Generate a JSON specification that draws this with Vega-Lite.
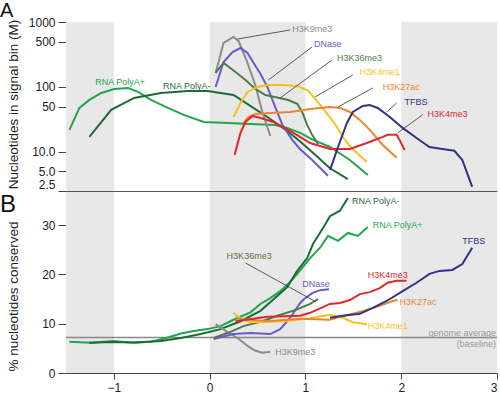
{
  "$schema": "https://vega.github.io/schema/vega-lite/v6.json",
  "padding": {"left": 0, "top": 1, "right": 0, "bottom": 0},
  "spacing": 0,
  "config": {
    "font": "Liberation Sans",
    "view": {"stroke": null},
    "axis": {"labelFont": "Liberation Sans", "titleFont": "Liberation Sans", "labelColor": "#222", "titleColor": "#222", "domainColor": "#444", "tickColor": "#444", "grid": false, "labelFontSize": 12, "titleFontSize": 13.5, "titleFontWeight": "normal", "labelOverlap": false}
  },
  "datasets": {
    "bands": [{"x0": -1.5, "x1": -1}, {"x0": 0, "x1": 1}, {"x0": 2, "x1": 3}],
    "top_lines": [
      {"s": "RNA PolyA+", "x": -1.464, "y": 21.8}, {"s": "RNA PolyA+", "x": -1.36, "y": 47.5}, {"s": "RNA PolyA+", "x": -1.256, "y": 63.1}, {"s": "RNA PolyA+", "x": -1.132, "y": 80.9}, {"s": "RNA PolyA+", "x": -0.997, "y": 93.1}, {"s": "RNA PolyA+", "x": -0.851, "y": 96.5}, {"s": "RNA PolyA+", "x": -0.748, "y": 83.8}, {"s": "RNA PolyA+", "x": -0.613, "y": 63.1}, {"s": "RNA PolyA+", "x": -0.436, "y": 47.5}, {"s": "RNA PolyA+", "x": -0.27, "y": 37.1}, {"s": "RNA PolyA+", "x": -0.062, "y": 28.9}, {"s": "RNA PolyA+", "x": 0.187, "y": 27.9}, {"s": "RNA PolyA+", "x": 0.426, "y": 27.0}, {"s": "RNA PolyA+", "x": 0.685, "y": 26.0}, {"s": "RNA PolyA+", "x": 0.81, "y": 23.4}, {"s": "RNA PolyA+", "x": 0.945, "y": 19.6}, {"s": "RNA PolyA+", "x": 1.08, "y": 15.3}, {"s": "RNA PolyA+", "x": 1.256, "y": 11.9}, {"s": "RNA PolyA+", "x": 1.464, "y": 7.5}, {"s": "RNA PolyA+", "x": 1.651, "y": 4.4},
      {"s": "RNA PolyA-", "x": -1.256, "y": 17.0}, {"s": "RNA PolyA-", "x": -1.028, "y": 44.3}, {"s": "RNA PolyA-", "x": -0.789, "y": 67.7}, {"s": "RNA PolyA-", "x": -0.509, "y": 80.9}, {"s": "RNA PolyA-", "x": -0.228, "y": 86.7}, {"s": "RNA PolyA-", "x": -0.021, "y": 86.7}, {"s": "RNA PolyA-", "x": 0.249, "y": 75.3}, {"s": "RNA PolyA-", "x": 0.353, "y": 60.0}, {"s": "RNA PolyA-", "x": 0.602, "y": 34.5}, {"s": "RNA PolyA-", "x": 0.81, "y": 21.0}, {"s": "RNA PolyA-", "x": 0.945, "y": 14.5}, {"s": "RNA PolyA-", "x": 1.122, "y": 8.5}, {"s": "RNA PolyA-", "x": 1.256, "y": 5.6}, {"s": "RNA PolyA-", "x": 1.443, "y": 3.8},
      {"s": "H3K9me3", "x": 0.062, "y": 164}, {"s": "H3K9me3", "x": 0.145, "y": 475}, {"s": "H3K9me3", "x": 0.249, "y": 588}, {"s": "H3K9me3", "x": 0.301, "y": 510}, {"s": "H3K9me3", "x": 0.384, "y": 260}, {"s": "H3K9me3", "x": 0.478, "y": 105}, {"s": "H3K9me3", "x": 0.55, "y": 41.2}, {"s": "H3K9me3", "x": 0.633, "y": 17.6},
      {"s": "DNase", "x": 0.062, "y": 100}, {"s": "DNase", "x": 0.145, "y": 242}, {"s": "DNase", "x": 0.239, "y": 345}, {"s": "DNase", "x": 0.322, "y": 398}, {"s": "DNase", "x": 0.395, "y": 333}, {"s": "DNase", "x": 0.478, "y": 210}, {"s": "DNase", "x": 0.53, "y": 160}, {"s": "DNase", "x": 0.602, "y": 100}, {"s": "DNase", "x": 0.685, "y": 49}, {"s": "DNase", "x": 0.76, "y": 26}, {"s": "DNase", "x": 0.862, "y": 15.3}, {"s": "DNase", "x": 0.945, "y": 11}, {"s": "DNase", "x": 1.07, "y": 7.5}, {"s": "DNase", "x": 1.236, "y": 4.3},
      {"s": "H3K36me3", "x": 0.062, "y": 164}, {"s": "H3K36me3", "x": 0.145, "y": 234}, {"s": "H3K36me3", "x": 0.27, "y": 170}, {"s": "H3K36me3", "x": 0.374, "y": 128}, {"s": "H3K36me3", "x": 0.478, "y": 93}, {"s": "H3K36me3", "x": 0.582, "y": 75}, {"s": "H3K36me3", "x": 0.716, "y": 68}, {"s": "H3K36me3", "x": 0.82, "y": 63}, {"s": "H3K36me3", "x": 0.914, "y": 55}, {"s": "H3K36me3", "x": 0.966, "y": 41.2}, {"s": "H3K36me3", "x": 1.018, "y": 26}, {"s": "H3K36me3", "x": 1.07, "y": 18.3}, {"s": "H3K36me3", "x": 1.132, "y": 13.3},
      {"s": "H3K4me1", "x": 0.249, "y": 34.5}, {"s": "H3K4me1", "x": 0.322, "y": 56.7}, {"s": "H3K4me1", "x": 0.395, "y": 83.8}, {"s": "H3K4me1", "x": 0.498, "y": 100}, {"s": "H3K4me1", "x": 0.602, "y": 107}, {"s": "H3K4me1", "x": 0.768, "y": 107}, {"s": "H3K4me1", "x": 0.914, "y": 103.5}, {"s": "H3K4me1", "x": 1.028, "y": 88}, {"s": "H3K4me1", "x": 1.153, "y": 53}, {"s": "H3K4me1", "x": 1.277, "y": 31}, {"s": "H3K4me1", "x": 1.33, "y": 24}, {"s": "H3K4me1", "x": 1.412, "y": 15.3}, {"s": "H3K4me1", "x": 1.495, "y": 11}, {"s": "H3K4me1", "x": 1.641, "y": 7.0},
      {"s": "H3K27ac", "x": 0.353, "y": 27.9}, {"s": "H3K27ac", "x": 0.405, "y": 34.5}, {"s": "H3K27ac", "x": 0.478, "y": 38.4}, {"s": "H3K27ac", "x": 0.633, "y": 39.8}, {"s": "H3K27ac", "x": 0.841, "y": 41.2}, {"s": "H3K27ac", "x": 1.049, "y": 45.9}, {"s": "H3K27ac", "x": 1.257, "y": 49.2}, {"s": "H3K27ac", "x": 1.36, "y": 47.5}, {"s": "H3K27ac", "x": 1.464, "y": 41.2}, {"s": "H3K27ac", "x": 1.568, "y": 31.1}, {"s": "H3K27ac", "x": 1.672, "y": 21.8}, {"s": "H3K27ac", "x": 1.807, "y": 12.8}, {"s": "H3K27ac", "x": 1.952, "y": 8.1},
      {"s": "H3K4me3", "x": 0.26, "y": 9.0}, {"s": "H3K4me3", "x": 0.322, "y": 19.6}, {"s": "H3K4me3", "x": 0.374, "y": 28.9}, {"s": "H3K4me3", "x": 0.447, "y": 35.8}, {"s": "H3K4me3", "x": 0.53, "y": 33.3}, {"s": "H3K4me3", "x": 0.665, "y": 28.9}, {"s": "H3K4me3", "x": 0.841, "y": 21.0}, {"s": "H3K4me3", "x": 1.049, "y": 13.7}, {"s": "H3K4me3", "x": 1.257, "y": 11.1}, {"s": "H3K4me3", "x": 1.464, "y": 11.1}, {"s": "H3K4me3", "x": 1.641, "y": 13.7}, {"s": "H3K4me3", "x": 1.807, "y": 17.0}, {"s": "H3K4me3", "x": 1.859, "y": 18.3}, {"s": "H3K4me3", "x": 1.952, "y": 18.3}, {"s": "H3K4me3", "x": 1.983, "y": 15.3}, {"s": "H3K4me3", "x": 2.035, "y": 10.7},
      {"s": "TFBS", "x": 1.257, "y": 5.3}, {"s": "TFBS", "x": 1.34, "y": 11.9}, {"s": "TFBS", "x": 1.433, "y": 27.9}, {"s": "TFBS", "x": 1.495, "y": 41.2}, {"s": "TFBS", "x": 1.599, "y": 51}, {"s": "TFBS", "x": 1.672, "y": 52.8}, {"s": "TFBS", "x": 1.755, "y": 47.5}, {"s": "TFBS", "x": 1.88, "y": 34.5}, {"s": "TFBS", "x": 2.015, "y": 23.4}, {"s": "TFBS", "x": 2.16, "y": 16.4}, {"s": "TFBS", "x": 2.295, "y": 11.9}, {"s": "TFBS", "x": 2.43, "y": 11.1}, {"s": "TFBS", "x": 2.555, "y": 10.4}, {"s": "TFBS", "x": 2.638, "y": 7.5}, {"s": "TFBS", "x": 2.741, "y": 2.9}
    ],
    "top_labels": [
      {"t": "H3K9me3", "s": "H3K9me3", "x": 0.862, "y": 780}, {"t": "DNase", "s": "DNase", "x": 1.09, "y": 459}, {"t": "H3K36me3", "s": "H3K36me3", "x": 1.329, "y": 279}, {"t": "H3K4me1", "s": "H3K4me1", "x": 1.568, "y": 170}, {"t": "H3K27ac", "s": "H3K27ac", "x": 1.807, "y": 100}, {"t": "TFBS", "s": "TFBS", "x": 2.035, "y": 58.8}, {"t": "H3K4me3", "s": "H3K4me3", "x": 2.274, "y": 38.4}, {"t": "RNA PolyA+", "s": "RNA PolyA+", "x": -1.194, "y": 119}, {"t": "RNA PolyA-", "s": "RNA PolyA-", "x": -0.488, "y": 103.5}
    ],
    "top_leaders": [
      {"x": 0.291, "y": 547, "x2": 0.841, "y2": 754}, {"x": 0.613, "y": 128, "x2": 1.07, "y2": 412}, {"x": 0.737, "y": 67.7, "x2": 1.277, "y2": 260}, {"x": 1.101, "y": 70.2, "x2": 1.495, "y2": 153}, {"x": 1.34, "y": 49.2, "x2": 1.703, "y2": 96.5}, {"x": 1.848, "y": 41.2, "x2": 1.952, "y2": 56.7}, {"x": 1.963, "y": 19.6, "x2": 2.222, "y2": 37.1}
    ],
    "bottom_lines": [
      {"s": "RNA PolyA+", "x": -1.464, "y": 6.35}, {"s": "RNA PolyA+", "x": -1.241, "y": 6.15}, {"s": "RNA PolyA+", "x": -1.002, "y": 6.5}, {"s": "RNA PolyA+", "x": -0.794, "y": 6.15}, {"s": "RNA PolyA+", "x": -0.613, "y": 6.35}, {"s": "RNA PolyA+", "x": -0.436, "y": 7.2}, {"s": "RNA PolyA+", "x": -0.301, "y": 8.0}, {"s": "RNA PolyA+", "x": -0.166, "y": 8.5}, {"s": "RNA PolyA+", "x": -0.021, "y": 8.9}, {"s": "RNA PolyA+", "x": 0.114, "y": 9.5}, {"s": "RNA PolyA+", "x": 0.249, "y": 10.8}, {"s": "RNA PolyA+", "x": 0.426, "y": 12.3}, {"s": "RNA PolyA+", "x": 0.53, "y": 14.0}, {"s": "RNA PolyA+", "x": 0.633, "y": 15.2}, {"s": "RNA PolyA+", "x": 0.737, "y": 16.6}, {"s": "RNA PolyA+", "x": 0.841, "y": 18.5}, {"s": "RNA PolyA+", "x": 0.914, "y": 20.1}, {"s": "RNA PolyA+", "x": 1.049, "y": 23.3}, {"s": "RNA PolyA+", "x": 1.153, "y": 25.4}, {"s": "RNA PolyA+", "x": 1.236, "y": 27.8}, {"s": "RNA PolyA+", "x": 1.34, "y": 26.8}, {"s": "RNA PolyA+", "x": 1.443, "y": 28.4}, {"s": "RNA PolyA+", "x": 1.547, "y": 27.8}, {"s": "RNA PolyA+", "x": 1.651, "y": 29.6},
      {"s": "RNA PolyA-", "x": -1.256, "y": 6.15}, {"s": "RNA PolyA-", "x": -1.028, "y": 6.3}, {"s": "RNA PolyA-", "x": -0.794, "y": 6.2}, {"s": "RNA PolyA-", "x": -0.509, "y": 6.5}, {"s": "RNA PolyA-", "x": -0.301, "y": 7.1}, {"s": "RNA PolyA-", "x": -0.093, "y": 7.9}, {"s": "RNA PolyA-", "x": 0.114, "y": 8.9}, {"s": "RNA PolyA-", "x": 0.322, "y": 10.5}, {"s": "RNA PolyA-", "x": 0.53, "y": 12.6}, {"s": "RNA PolyA-", "x": 0.706, "y": 15.6}, {"s": "RNA PolyA-", "x": 0.81, "y": 17.4}, {"s": "RNA PolyA-", "x": 0.914, "y": 20.7}, {"s": "RNA PolyA-", "x": 1.018, "y": 23.3}, {"s": "RNA PolyA-", "x": 1.08, "y": 26.2}, {"s": "RNA PolyA-", "x": 1.184, "y": 29.4}, {"s": "RNA PolyA-", "x": 1.256, "y": 31.8}, {"s": "RNA PolyA-", "x": 1.36, "y": 32.9}, {"s": "RNA PolyA-", "x": 1.443, "y": 35.5},
      {"s": "H3K9me3", "x": 0.062, "y": 9.9}, {"s": "H3K9me3", "x": 0.187, "y": 8.3}, {"s": "H3K9me3", "x": 0.291, "y": 7.1}, {"s": "H3K9me3", "x": 0.395, "y": 5.5}, {"s": "H3K9me3", "x": 0.478, "y": 4.5}, {"s": "H3K9me3", "x": 0.55, "y": 4.1}, {"s": "H3K9me3", "x": 0.633, "y": 4.3},
      {"s": "DNase", "x": 0.042, "y": 6.9}, {"s": "DNase", "x": 0.249, "y": 7.9}, {"s": "DNase", "x": 0.426, "y": 8.1}, {"s": "DNase", "x": 0.633, "y": 7.9}, {"s": "DNase", "x": 0.737, "y": 8.9}, {"s": "DNase", "x": 0.841, "y": 11.2}, {"s": "DNase", "x": 0.945, "y": 14.2}, {"s": "DNase", "x": 0.986, "y": 15.0}, {"s": "DNase", "x": 1.07, "y": 16.2}, {"s": "DNase", "x": 1.153, "y": 16.8}, {"s": "DNase", "x": 1.246, "y": 17.0},
      {"s": "H3K36me3", "x": 0.042, "y": 7.1}, {"s": "H3K36me3", "x": 0.2, "y": 8.2}, {"s": "H3K36me3", "x": 0.353, "y": 9.5}, {"s": "H3K36me3", "x": 0.55, "y": 10.5}, {"s": "H3K36me3", "x": 0.706, "y": 11.6}, {"s": "H3K36me3", "x": 0.9, "y": 12.8}, {"s": "H3K36me3", "x": 1.049, "y": 14.0}, {"s": "H3K36me3", "x": 1.132, "y": 15.0},
      {"s": "H3K4me1", "x": 0.249, "y": 12.2}, {"s": "H3K4me1", "x": 0.322, "y": 11.0}, {"s": "H3K4me1", "x": 0.426, "y": 10.3}, {"s": "H3K4me1", "x": 0.768, "y": 10.5}, {"s": "H3K4me1", "x": 1.018, "y": 11.0}, {"s": "H3K4me1", "x": 1.256, "y": 11.8}, {"s": "H3K4me1", "x": 1.391, "y": 11.2}, {"s": "H3K4me1", "x": 1.495, "y": 10.3}, {"s": "H3K4me1", "x": 1.641, "y": 9.9},
      {"s": "H3K27ac", "x": 0.291, "y": 11.0}, {"s": "H3K27ac", "x": 0.602, "y": 10.5}, {"s": "H3K27ac", "x": 0.945, "y": 11.0}, {"s": "H3K27ac", "x": 1.256, "y": 10.8}, {"s": "H3K27ac", "x": 1.36, "y": 11.4}, {"s": "H3K27ac", "x": 1.495, "y": 12.0}, {"s": "H3K27ac", "x": 1.641, "y": 12.8}, {"s": "H3K27ac", "x": 1.776, "y": 13.6}, {"s": "H3K27ac", "x": 1.911, "y": 14.6}, {"s": "H3K27ac", "x": 1.963, "y": 14.8},
      {"s": "H3K4me3", "x": 0.27, "y": 10.5}, {"s": "H3K4me3", "x": 0.602, "y": 11.4}, {"s": "H3K4me3", "x": 0.945, "y": 11.6}, {"s": "H3K4me3", "x": 1.049, "y": 12.2}, {"s": "H3K4me3", "x": 1.256, "y": 14.0}, {"s": "H3K4me3", "x": 1.36, "y": 14.2}, {"s": "H3K4me3", "x": 1.464, "y": 14.8}, {"s": "H3K4me3", "x": 1.568, "y": 16.0}, {"s": "H3K4me3", "x": 1.672, "y": 16.4}, {"s": "H3K4me3", "x": 1.776, "y": 17.2}, {"s": "H3K4me3", "x": 1.859, "y": 18.3}, {"s": "H3K4me3", "x": 1.952, "y": 18.7}, {"s": "H3K4me3", "x": 2.056, "y": 18.7},
      {"s": "TFBS", "x": 1.257, "y": 11.2}, {"s": "TFBS", "x": 1.391, "y": 11.6}, {"s": "TFBS", "x": 1.568, "y": 12.0}, {"s": "TFBS", "x": 1.703, "y": 13.2}, {"s": "TFBS", "x": 1.848, "y": 14.6}, {"s": "TFBS", "x": 2.015, "y": 16.6}, {"s": "TFBS", "x": 2.16, "y": 18.3}, {"s": "TFBS", "x": 2.295, "y": 20.1}, {"s": "TFBS", "x": 2.399, "y": 20.7}, {"s": "TFBS", "x": 2.534, "y": 20.9}, {"s": "TFBS", "x": 2.638, "y": 22.1}, {"s": "TFBS", "x": 2.741, "y": 25.4}
    ],
    "bottom_labels": [
      {"t": "RNA PolyA-", "s": "RNA PolyA-", "x": 1.485, "y": 34.9}, {"t": "RNA PolyA+", "s": "RNA PolyA+", "x": 1.703, "y": 30.0}, {"t": "TFBS", "s": "TFBS", "x": 2.638, "y": 26.8}, {"t": "H3K36me3", "s": "H3K36me3", "x": 0.177, "y": 23.7}, {"t": "DNase", "s": "DNase", "x": 0.966, "y": 18.1}, {"t": "H3K4me3", "s": "H3K4me3", "x": 1.651, "y": 19.9}, {"t": "H3K27ac", "s": "H3K27ac", "x": 1.983, "y": 14.4}, {"t": "H3K4me1", "s": "H3K4me1", "x": 1.651, "y": 9.5}, {"t": "H3K9me3", "s": "H3K9me3", "x": 0.685, "y": 4.3}
    ],
    "bottom_leaders": [{"x": 0.374, "y": 22.3, "x2": 1.111, "y2": 14.4}],
    "baseline_labels": [{"t": "genome average", "x": 2.99, "y": 8.1}, {"t": "(baseline)", "x": 2.99, "y": 5.9}]
  },
  "vconcat": [
    {
      "width": 431,
      "height": 169,
      "layer": [
        {
          "data": {"name": "bands"},
          "mark": {"type": "rect", "color": "#e8e8e8"},
          "encoding": {
            "x": {"field": "x0", "type": "quantitative", "scale": {"domain": [-1.5, 3], "nice": false, "zero": false}, "axis": {"labels": false, "ticks": false, "title": null, "domainColor": "#555", "domainWidth": 1.2}},
            "x2": {"field": "x1"}
          }
        },
        {
          "data": {"name": "top_lines"},
          "mark": {"type": "line", "strokeWidth": 2},
          "encoding": {
            "x": {"field": "x", "type": "quantitative", "title": null},
            "y": {"field": "y", "type": "quantitative", "scale": {"type": "log", "domain": [2.5, 1000], "nice": false}, "axis": {"values": [2.5, 5, 10, 50, 100, 500, 1000], "labelExpr": "datum.value == 2.5 ? '2.5' : datum.value == 5 ? '5.0' : datum.value == 10 ? '10.0' : format(datum.value, 'd')", "labelBaseline": {"expr": "datum.value == 2.5 ? 'bottom' : 'middle'"}, "tickSize": 8, "labelPadding": 3, "title": "Nucleotides in signal bin (M)", "titleX": -49, "titleY": 82, "titleBaseline": "alphabetic"}},
            "color": {"field": "s", "type": "nominal", "legend": null, "scale": {"domain": ["RNA PolyA+", "RNA PolyA-", "H3K9me3", "DNase", "H3K36me3", "H3K4me1", "H3K27ac", "TFBS", "H3K4me3"], "range": ["#1fa64a", "#1d6b38", "#8c8c8c", "#6a5acd", "#4f7a45", "#f5c31c", "#ea8630", "#2e3386", "#e2272a"]}}
          }
        },
        {
          "data": {"name": "top_leaders"},
          "mark": {"type": "rule", "color": "#333", "strokeWidth": 0.8},
          "encoding": {
            "x": {"field": "x", "type": "quantitative", "title": null},
            "y": {"field": "y", "type": "quantitative"},
            "x2": {"field": "x2"},
            "y2": {"field": "y2"}
          }
        },
        {
          "data": {"name": "top_labels"},
          "mark": {"type": "text", "align": "left", "baseline": "middle", "fontSize": 9, "font": "Liberation Sans"},
          "encoding": {
            "x": {"field": "x", "type": "quantitative", "title": null},
            "y": {"field": "y", "type": "quantitative"},
            "text": {"field": "t"},
            "color": {"field": "s", "type": "nominal", "legend": null, "scale": {"domain": ["RNA PolyA+", "RNA PolyA-", "H3K9me3", "DNase", "H3K36me3", "H3K4me1", "H3K27ac", "TFBS", "H3K4me3"], "range": ["#1fa64a", "#1d6b38", "#8c8c8c", "#6a5acd", "#4f7a45", "#f5c31c", "#ea8630", "#2e3386", "#e2272a"]}}
          }
        },
        {
          "data": {"values": [{"t": "A"}]},
          "mark": {"type": "text", "align": "left", "baseline": "alphabetic", "fontSize": 20, "dx": -66, "dy": -5, "color": "#111", "font": "Liberation Sans"},
          "encoding": {
            "x": {"datum": -1.5},
            "y": {"datum": 1000},
            "text": {"field": "t"}
          }
        }
      ]
    },
    {
      "width": 431,
      "height": 181,
      "layer": [
        {
          "data": {"name": "bands"},
          "mark": {"type": "rect", "color": "#e8e8e8"},
          "encoding": {
            "x": {"field": "x0", "type": "quantitative", "scale": {"domain": [-1.5, 3], "nice": false, "zero": false}, "axis": {"values": [-1, 0, 1, 2, 3], "format": "d", "tickSize": 6, "labelPadding": 3, "title": "Biochemical signal strength (log10)", "titlePadding": 3}},
            "x2": {"field": "x1"}
          }
        },
        {
          "data": {"values": [{"v": 7.2}]},
          "mark": {"type": "rule", "color": "#888", "strokeWidth": 1.5},
          "encoding": {"y": {"field": "v", "type": "quantitative"}}
        },
        {
          "data": {"name": "bottom_lines"},
          "mark": {"type": "line", "strokeWidth": 2},
          "encoding": {
            "x": {"field": "x", "type": "quantitative", "title": null},
            "y": {"field": "y", "type": "quantitative", "scale": {"domain": [0, 36.7], "nice": false}, "axis": {"values": [0, 10, 20, 30], "tickSize": 8, "labelPadding": 3, "title": "% nucleotides conserved", "titleX": -49, "titleY": 104, "titleBaseline": "alphabetic"}},
            "color": {"field": "s", "type": "nominal", "legend": null, "scale": {"domain": ["RNA PolyA+", "RNA PolyA-", "H3K9me3", "DNase", "H3K36me3", "H3K4me1", "H3K27ac", "TFBS", "H3K4me3"], "range": ["#1fa64a", "#1d6b38", "#8c8c8c", "#6a5acd", "#4f7a45", "#f5c31c", "#ea8630", "#2e3386", "#e2272a"]}}
          }
        },
        {
          "data": {"name": "bottom_leaders"},
          "mark": {"type": "rule", "color": "#333", "strokeWidth": 0.8},
          "encoding": {
            "x": {"field": "x", "type": "quantitative", "title": null},
            "y": {"field": "y", "type": "quantitative"},
            "x2": {"field": "x2"},
            "y2": {"field": "y2"}
          }
        },
        {
          "data": {"name": "bottom_labels"},
          "mark": {"type": "text", "align": "left", "baseline": "middle", "fontSize": 9, "font": "Liberation Sans"},
          "encoding": {
            "x": {"field": "x", "type": "quantitative", "title": null},
            "y": {"field": "y", "type": "quantitative"},
            "text": {"field": "t"},
            "color": {"field": "s", "type": "nominal", "legend": null, "scale": {"domain": ["RNA PolyA+", "RNA PolyA-", "H3K9me3", "DNase", "H3K36me3", "H3K4me1", "H3K27ac", "TFBS", "H3K4me3"], "range": ["#1fa64a", "#1d6b38", "#8c8c8c", "#6a5acd", "#4f7a45", "#f5c31c", "#ea8630", "#2e3386", "#e2272a"]}}
          }
        },
        {
          "data": {"name": "baseline_labels"},
          "mark": {"type": "text", "align": "right", "baseline": "middle", "fontSize": 9, "color": "#999", "font": "Liberation Sans"},
          "encoding": {
            "x": {"field": "x", "type": "quantitative", "title": null},
            "y": {"field": "y", "type": "quantitative"},
            "text": {"field": "t"}
          }
        },
        {
          "data": {"values": [{"t": "B"}]},
          "mark": {"type": "text", "align": "left", "baseline": "alphabetic", "fontSize": 24, "dx": -66, "dy": 20, "color": "#111", "font": "Liberation Sans"},
          "encoding": {
            "x": {"datum": -1.5},
            "y": {"datum": 36.7},
            "text": {"field": "t"}
          }
        }
      ]
    }
  ]
}
